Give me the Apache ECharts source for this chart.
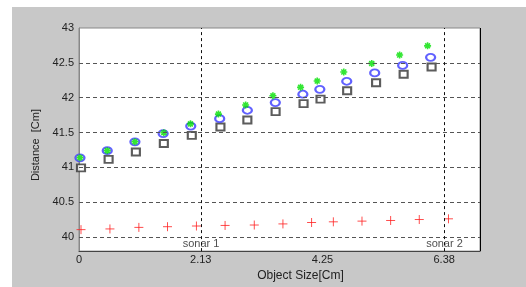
<!DOCTYPE html>
<html>
<head>
<meta charset="utf-8">
<script src="https://cdn.jsdelivr.net/npm/echarts@6/dist/echarts.min.js"></script>
<style>
  html, body { margin: 0; padding: 0; background: #fff; }
  #chart-container { position: absolute; left: 12px; top: 7px; width: 514px; height: 280px; }
</style>
</head>
<body>
<div id="chart-container"></div>
<script>
// sonar reading (red +)
var sonarX = [0.035, 0.54, 1.045, 1.545, 2.05, 2.55, 3.06, 3.56, 4.06, 4.44, 4.94, 5.44, 5.94, 6.45];
var sonarY = [40.108, 40.118, 40.14, 40.15, 40.16, 40.168, 40.174, 40.19, 40.21, 40.22, 40.23, 40.239, 40.253, 40.263];
// green stars
var starX = [0.017, 0.493, 0.976, 1.481, 1.946, 2.434, 2.909, 3.385, 3.868, 4.158, 4.622, 5.11, 5.597, 6.085];
var starY = [41.138, 41.241, 41.368, 41.499, 41.625, 41.765, 41.896, 42.028, 42.149, 42.239, 42.369, 42.492, 42.612, 42.744];
// blue circles
var circX = [0.017, 0.493, 0.976, 1.469, 1.951, 2.456, 2.939, 3.427, 3.908, 4.204, 4.674, 5.162, 5.65, 6.138];
var circY = [41.138, 41.241, 41.368, 41.485, 41.593, 41.7, 41.82, 41.93, 42.05, 42.12, 42.236, 42.355, 42.463, 42.58];
// black squares
var sqX = [0.035, 0.517, 0.993, 1.481, 1.969, 2.469, 2.939, 3.432, 3.92, 4.216, 4.681, 5.186, 5.667, 6.155];
var sqY = [40.993, 41.115, 41.222, 41.344, 41.46, 41.58, 41.68, 41.8, 41.916, 41.98, 42.1, 42.215, 42.337, 42.44];

var xTickLabels = ["0", "2.13", "4.25", "6.38"];
var sonarPos = [2.13, 6.38];
var sonarNames = ["sonar 1", "sonar 2"];
var yGrid = [40, 40.5, 41, 41.5, 42, 42.5];

function pairs(xs, ys) {
  return xs.map(function (x, i) { return [x, ys[i]]; });
}

var dom = document.getElementById("chart-container");
var myChart = echarts.init(dom);
var font = "Liberation Sans";

var option = {
  backgroundColor: "#c8c8c8",
  animation: false,
  grid: {
    left: 67, top: 21, width: 401, height: 228,
    show: true, backgroundColor: "#fff", borderColor: "#888", borderWidth: 1
  },
  xAxis: {
    type: "value",
    min: 0, max: 7, interval: 2.125,
    name: "Object Size[Cm]",
    nameLocation: "middle",
    nameGap: 15,
    nameTextStyle: { fontFamily: font, fontSize: 12, color: "#222", padding: [0, 0, 0, 42] },
    axisLine: { show: true, lineStyle: { color: "#444" } },
    axisTick: { show: false },
    splitLine: { show: false },
    axisLabel: {
      fontFamily: font, fontSize: 11, color: "#222", margin: 3,
      formatter: function (v, i) { return xTickLabels[i] !== undefined ? xTickLabels[i] : ""; }
    }
  },
  yAxis: {
    type: "value",
    min: 39.8, max: 43, interval: 0.1,
    name: "Distance  [Cm]",
    nameLocation: "middle",
    nameGap: 31,
    nameTextStyle: { fontFamily: font, fontSize: 11, color: "#222", padding: [0, 11, 0, 0] },
    axisLine: { show: true, lineStyle: { color: "#888" } },
    axisTick: { show: false },
    splitLine: { show: false },
    axisLabel: {
      fontFamily: font, fontSize: 11, color: "#222", margin: 5,
      formatter: function (v) {
        var h = Math.round(v * 2);
        if (Math.abs(v * 2 - h) > 1e-6 || v < 39.99) return "";
        return String(h / 2);
      }
    }
  },
  series: [
    {
      name: "grid",
      type: "scatter",
      data: [],
      silent: true,
      markLine: {
        silent: true,
        symbol: "none",
        animation: false,
        label: { show: false },
        data: yGrid.map(function (y) {
          return { yAxis: y, lineStyle: { color: "#555", type: [4, 3], width: 1 } };
        }).concat(sonarPos.map(function (x) {
          return { xAxis: x, lineStyle: { color: "#111", type: [3, 3], width: 1 } };
        })).concat([{ xAxis: 7, lineStyle: { color: "#000", type: "solid", width: 1 } }])
      }
    },
    {
      name: "squares",
      type: "scatter",
      symbol: "emptyRect",
      symbolSize: [8, 7],
      itemStyle: { color: "#333", borderColor: "#333", borderWidth: 1 },
      data: pairs(sqX, sqY)
    },
    {
      name: "circles",
      type: "scatter",
      symbol: "emptyCircle",
      symbolSize: [9, 7],
      itemStyle: { color: "#3a3aff", borderColor: "#3a3aff", borderWidth: 1 },
      data: pairs(circX, circY)
    },
    {
      name: "stars",
      type: "scatter",
      symbol: "path://M0,5L10,5M5,0L5,10M1.5,1.5L8.5,8.5M8.5,1.5L1.5,8.5",
      symbolSize: 7,
      itemStyle: { color: "#00e000", borderColor: "#00e000", borderWidth: 1.6 },
      data: pairs(starX, starY)
    },
    {
      name: "sonar",
      type: "scatter",
      symbol: "path://M0,5L10,5M5,0L5,10",
      symbolSize: 9,
      itemStyle: { color: "#ff2020", borderColor: "#ff2020", borderWidth: 1 },
      data: pairs(sonarX, sonarY)
    },
    {
      name: "labels",
      type: "scatter",
      symbolSize: 0,
      silent: true,
      label: {
        show: true, position: "inside", fontFamily: font, fontSize: 11, color: "#222",
        formatter: function (p) { return p.name; }
      },
      data: sonarPos.map(function (x, i) { return { name: sonarNames[i], value: [x, 39.9] }; })
    }
  ]
};

if (option && typeof option === "object") {
  myChart.setOption(option, true);
}
</script>
</body>
</html>
